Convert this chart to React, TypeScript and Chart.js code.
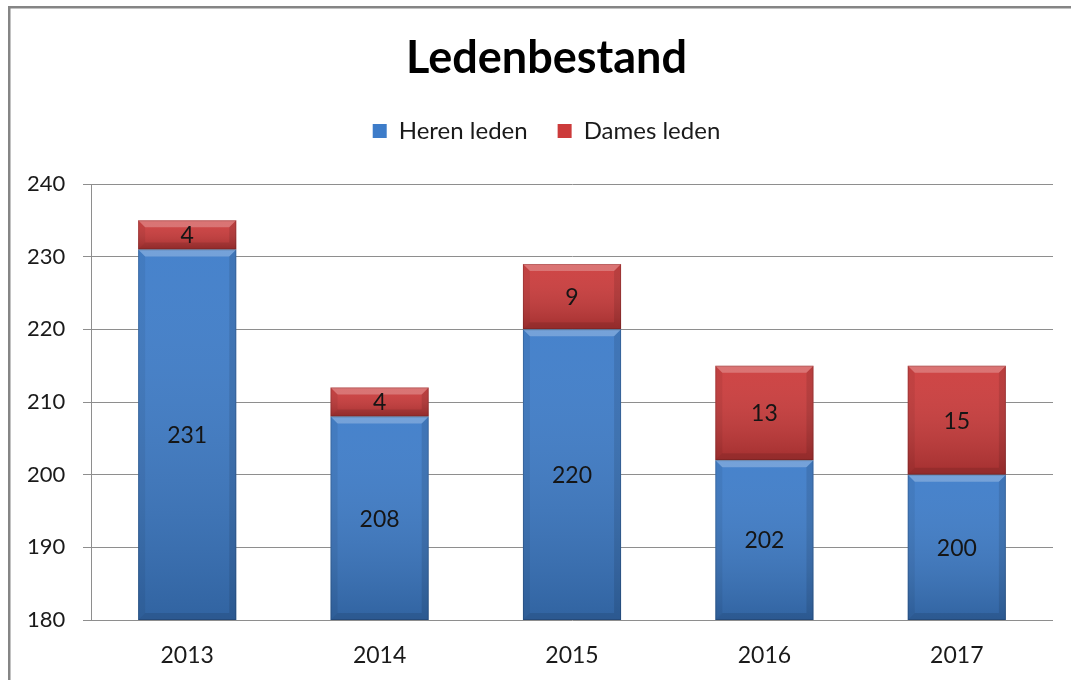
import React, { useEffect, useRef } from "react";
import { Chart, registerables } from "chart.js";

Chart.register(...registerables);

const chartTitle = "Ledenbestand";
const years = ["2013", "2014", "2015", "2016", "2017"];
const herenLeden = [231, 208, 220, 202, 200];
const damesLeden = [4, 4, 9, 13, 15];
const seriesNames = ["Heren leden", "Dames leden"];
const yMin = 180;
const yMax = 240;
const yStep = 10;

const FONT = "Lato, 'Open Sans', 'Noto Sans', sans-serif";
const BLUE = "#3d7cc9";
const RED = "#cc3b3b";
const GRID = "#8e8e8e";

const frameAndBevelPlugin = {
  id: "frameAndBevel",
  beforeDraw(chart: any) {
    const c = chart.ctx;
    c.save();
    c.fillStyle = "#ffffff";
    c.fillRect(0, 0, chart.width, chart.height);
    c.strokeStyle = "#858585";
    c.lineWidth = 2.5;
    c.beginPath();
    c.moveTo(9.25, chart.height);
    c.lineTo(9.25, 7.25);
    c.lineTo(chart.width, 7.25);
    c.stroke();
    c.restore();
  },
  afterDatasetsDraw(chart: any) {
    const c = chart.ctx;
    const area = chart.chartArea;
    c.save();
    c.beginPath();
    c.rect(area.left, area.top, area.right - area.left, area.bottom - area.top);
    c.clip();
    chart.data.datasets.forEach((ds: any, i: number) => {
      const meta = chart.getDatasetMeta(i);
      meta.data.forEach((bar: any) => {
        const p = bar.getProps(["x", "y", "base", "width"], true);
        const l = p.x - p.width / 2;
        const r = p.x + p.width / 2;
        const t = Math.max(Math.min(p.y, p.base), area.top);
        const b = Math.min(Math.max(p.y, p.base), area.bottom);
        const h = b - t;
        if (h <= 0) return;
        const bev = Math.min(7, h / 2);
        const g = c.createLinearGradient(0, t, 0, b);
        g.addColorStop(0, "rgba(255,255,255,0.05)");
        g.addColorStop(1, "rgba(0,0,0,0.2)");
        c.fillStyle = g;
        c.fillRect(l, t, r - l, h);
        const poly = (pts: number[][], fill: string) => {
          c.beginPath();
          c.moveTo(pts[0][0], pts[0][1]);
          for (let k = 1; k < pts.length; k++) c.lineTo(pts[k][0], pts[k][1]);
          c.closePath();
          c.fillStyle = fill;
          c.fill();
        };
        poly([[l, t], [r, t], [r - bev, t + bev], [l + bev, t + bev]], "rgba(255,255,255,0.25)");
        poly([[l, t], [l + bev, t + bev], [l + bev, b - bev], [l, b]], "rgba(0,0,0,0.06)");
        poly([[r, t], [r - bev, t + bev], [r - bev, b - bev], [r, b]], "rgba(0,0,0,0.1)");
        poly([[l, b], [l + bev, b - bev], [r - bev, b - bev], [r, b]], "rgba(0,0,0,0.1)");
        c.strokeStyle = "rgba(0,0,0,0.15)";
        c.lineWidth = 1;
        c.strokeRect(l + 0.5, t + 0.5, r - l - 1, h - 1);
      });
    });
    c.restore();
    c.save();
    c.fillStyle = "#151515";
    c.font = `23px ${FONT}`;
    c.textAlign = "center";
    c.textBaseline = "middle";
    chart.data.datasets.forEach((ds: any, i: number) => {
      const meta = chart.getDatasetMeta(i);
      meta.data.forEach((bar: any, j: number) => {
        const p = bar.getProps(["x", "y", "base"], true);
        const t = Math.max(Math.min(p.y, p.base), area.top);
        const b = Math.min(Math.max(p.y, p.base), area.bottom);
        c.fillText(String(ds.data[j]), p.x, (t + b) / 2 + 1);
      });
    });
    c.restore();
  },
};

export default function App() {
  const ref = useRef<HTMLCanvasElement | null>(null);
  useEffect(() => {
    if (!ref.current) return;
    const chart = new Chart(ref.current, {
      type: "bar",
      data: {
        labels: years,
        datasets: [
          { label: seriesNames[0], data: herenLeden, backgroundColor: BLUE, borderWidth: 0 },
          { label: seriesNames[1], data: damesLeden, backgroundColor: RED, borderWidth: 0 },
        ],
      },
      options: {
        responsive: false,
        animation: false,
        devicePixelRatio: 1,
        datasets: { bar: { categoryPercentage: 1, barPercentage: 0.51 } },
        layout: { padding: { top: 8, left: 40, right: 18, bottom: 0 } },
        plugins: {
          title: {
            display: true,
            text: chartTitle,
            color: "#000000",
            font: { family: FONT, size: 45, weight: "bold", lineHeight: 1.2 },
            padding: { top: 23, bottom: 4 },
          },
          subtitle: {
            display: true,
            position: "top",
            text: " ",
            weight: 500,
            font: { size: 31, lineHeight: 1 },
            padding: 0,
          } as any,
          legend: {
            display: true,
            position: "top",
            labels: {
              color: "#1a1a1a",
              font: { family: FONT, size: 24 },
              boxWidth: 14,
              boxHeight: 14,
              padding: 30,
            },
          },
          tooltip: { enabled: false },
        },
        scales: {
          x: {
            stacked: true,
            grid: { display: false, drawTicks: false },
            border: { display: false },
            ticks: { color: "#1a1a1a", font: { family: FONT, size: 23 }, padding: 22 },
            afterFit: (axis: any) => {
              axis.height = 60;
            },
          },
          y: {
            stacked: true,
            min: yMin,
            max: yMax,
            grid: { color: GRID, lineWidth: 1, tickLength: 8, tickColor: GRID },
            border: { display: true, color: GRID, width: 1 },
            ticks: {
              stepSize: yStep,
              color: "#1a1a1a",
              font: { family: FONT, size: 22 },
              mirror: true,
              crossAlign: "near",
              padding: -64,
            },
            afterFit: (axis: any) => {
              axis.width = 51;
            },
          },
        },
      },
      plugins: [frameAndBevelPlugin],
    });
    return () => chart.destroy();
  }, []);
  return (
    <div style={{ position: "fixed", left: 0, top: 0, width: 1071, height: 680, background: "#fff" }}>
      <canvas ref={ref} width={1071} height={680} style={{ display: "block" }} />
    </div>
  );
}
